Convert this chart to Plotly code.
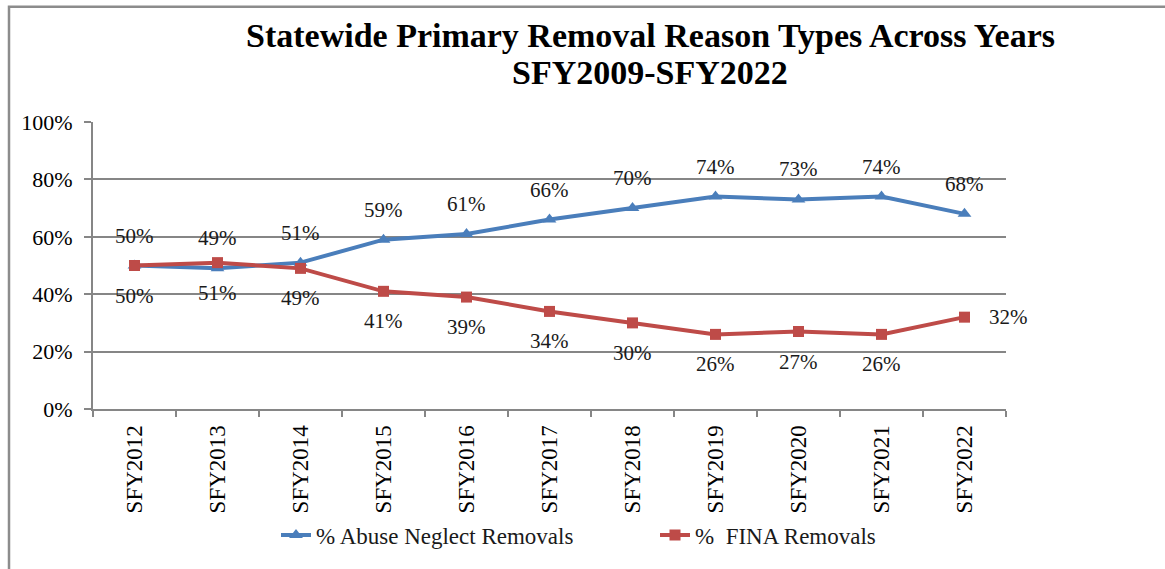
import plotly.graph_objects as go

categories = ["SFY2012", "SFY2013", "SFY2014", "SFY2015", "SFY2016", "SFY2017",
              "SFY2018", "SFY2019", "SFY2020", "SFY2021", "SFY2022"]
abuse_neglect = [50, 49, 51, 59, 61, 66, 70, 74, 73, 74, 68]
fina = [50, 51, 49, 41, 39, 34, 30, 26, 27, 26, 32]
y_ticks = [0, 20, 40, 60, 80, 100]
title_lines = ["Statewide Primary Removal Reason Types Across Years", "SFY2009-SFY2022"]

BLUE = "#4A7EBB"
RED = "#BE4B48"
FONT = "Liberation Serif"
TXT = "#1a1a1a"

# plot-area geometry in pixels (for paper-coordinate conversions)
L, R, T, B = 93, 1006, 122, 411
PW, PH = R - L, B - T

def px_x(x):
    return (x - L) / PW

def px_y(y):
    return (B - y) / PH

fig = go.Figure()
fig.add_trace(go.Scatter(
    x=categories, y=abuse_neglect, mode="lines+markers",
    name="% Abuse Neglect Removals",
    line=dict(color=BLUE, width=4),
    marker=dict(symbol="triangle-up", size=12, color=BLUE),
))
fig.add_trace(go.Scatter(
    x=categories, y=fina, mode="lines+markers",
    name="%  FINA Removals",
    line=dict(color=RED, width=4),
    marker=dict(symbol="square", size=11, color=RED),
))

annotations = []
for c, v in zip(categories, abuse_neglect):
    annotations.append(dict(x=c, y=v, text=f"{v}%", showarrow=False,
                            yshift=30, font=dict(family=FONT, size=21, color=TXT)))
for i, (c, v) in enumerate(zip(categories, fina)):
    if i == len(categories) - 1:
        annotations.append(dict(x=c, y=v, text=f"{v}%", showarrow=False,
                                xshift=44, font=dict(family=FONT, size=21, color=TXT)))
    else:
        annotations.append(dict(x=c, y=v, text=f"{v}%", showarrow=False,
                                yshift=-30, font=dict(family=FONT, size=21, color=TXT)))

for line, ypx in zip(title_lines, [35, 72]):
    annotations.append(dict(xref="paper", yref="paper", x=px_x(650), y=px_y(ypx),
                            xanchor="center", yanchor="middle", showarrow=False,
                            text=f"<b>{line}</b>",
                            font=dict(family=FONT, size=34, color="black")))

fig.update_layout(
    width=1165, height=569,
    margin=dict(l=L, r=1165 - R, t=T, b=569 - B),
    paper_bgcolor="white", plot_bgcolor="white",
    font=dict(family=FONT, color="black"),
    showlegend=True,
    legend=dict(orientation="h", x=px_x(276), xanchor="left", y=px_y(538), yanchor="middle",
                font=dict(family=FONT, size=23, color=TXT),
                entrywidth=334, entrywidthmode="pixels",
                tracegroupgap=0, bgcolor="rgba(0,0,0,0)"),
    annotations=annotations,
    shapes=[dict(type="rect", xref="paper", yref="paper",
                 x0=px_x(9), x1=px_x(1250),
                 y0=px_y(640), y1=px_y(6),
                 line=dict(color="#8c8c8c", width=2.5), fillcolor="rgba(0,0,0,0)",
                 layer="below")],
)
fig.update_xaxes(
    type="category", categoryorder="array", categoryarray=categories,
    tickangle=-90, tickfont=dict(family=FONT, size=23, color="black"),
    ticklabelstandoff=5,
    showline=True, linecolor="#868686", linewidth=2,
    ticks="outside", tickson="boundaries", ticklen=6, tickcolor="#868686", tickwidth=2,
    showgrid=False, range=[-0.5, 10.5],
)
fig.update_yaxes(
    range=[0, 100], tickvals=y_ticks, ticktext=[f"{t}%" for t in y_ticks],
    tickfont=dict(family=FONT, size=22, color="black"),
    ticklabelstandoff=7,
    showline=True, linecolor="#868686", linewidth=2,
    ticks="outside", ticklen=7, tickcolor="#868686", tickwidth=2,
    showgrid=True, gridcolor="#868686", gridwidth=1.5, zeroline=False,
)
fig.write_html("out.html")
